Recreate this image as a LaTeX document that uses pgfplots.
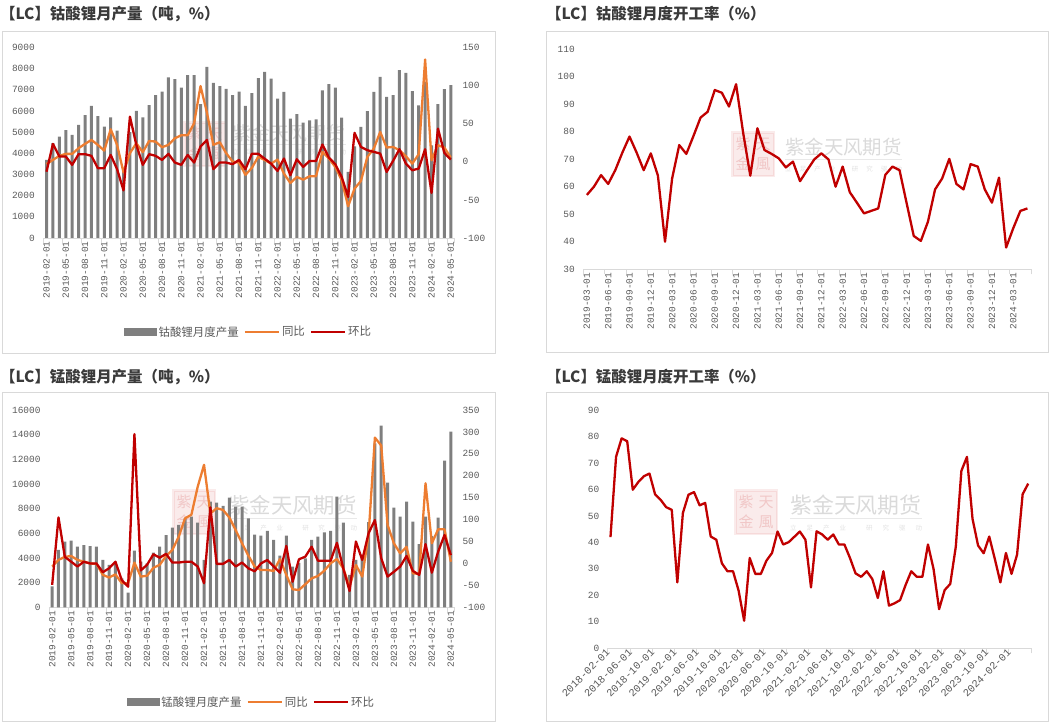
\documentclass[border=0pt]{standalone}
\usepackage{pgfplots}
\usepackage{pgfplotstable}
\pgfplotsset{compat=1.18}
\usepackage{fontspec}
\setmainfont{Noto Sans CJK SC}
\newfontfamily\tickfont{Liberation Mono}
\definecolor{barc}{HTML}{7F7F7F}
\definecolor{orng}{HTML}{ED7D31}
\definecolor{redc}{HTML}{C00000}
\definecolor{axc}{HTML}{D9D9D9}
\definecolor{txt}{HTML}{595959}
\definecolor{ttl}{HTML}{3A3A3A}
\definecolor{wmc}{HTML}{DADADA}

\pgfplotstableread{
i prod yoy mom
0 3690 -3 -13
1 4480 2.5 23.5
2 4790 7.8 7
3 5100 10.4 7
4 4870 10.4 -4
5 5340 17.8 10
6 5810 23.5 10
7 6240 28.7 7.8
8 5760 22.2 -8.4
9 5260 14.7 -8.4
10 5700 42.7 9
11 5070 22.2 -9.7
12 3160 -14 -37.6
13 5000 11.3 59.3
14 6010 24.3 22.2
15 5700 12.6 -4
16 6280 27.4 10
17 6750 26.5 7.8
18 6910 19.1 2.5
19 7590 22.2 10.4
20 7510 30.9 -1
21 7100 34.8 -4
22 7700 34.8 9
23 7700 50.5 -1
24 6330 99.4 20
25 8090 64.5 28.7
26 7330 22.2 -9.7
27 7180 25.7 -1
28 7040 11.3 -1
29 6750 0.3 -3.1
30 6910 -1 2.5
31 6240 -17.1 -9.7
32 6840 -8 10.5
33 7550 6.7 10.5
34 7850 2.3 4
35 7530 -2.4 -2.4
36 6590 2.9 -12
37 6900 -15.5 4.3
38 5640 -27.8 -17.7
39 5850 -19.9 3.3
40 5450 -23.4 -6.7
41 5560 -19 1.1
42 5600 -19 1.1
43 6980 13 22.6
44 7270 4.3 5.5
45 7110 -6.7 -3.2
46 5690 -24.3 -19.9
47 3120 -58.4 -46.1
48 4330 -35.2 38
49 5250 -25.1 19.5
50 5990 6.4 15.2
51 6900 17.3 13
52 7610 39.2 10.8
53 6670 18.7 -13.3
54 6750 19.5 1.1
55 7930 15.2 16.5
56 7800 7.3 -2.4
57 6935 -2.4 -11.1
58 6270 9.9 -8.9
59 7380 134.2 16.5
60 4380 2 -40.9
61 6320 21.7 43.6
62 7030 18.7 11.6
63 7220 5.5 2.9
}\tlc

\pgfplotstableread{
i rate
0 57
1 60
2 64.2
3 61
4 66
5 72.4
6 78.2
7 72.4
8 66
9 72.1
10 64
11 40
12 63
13 75.1
14 71.9
15 78.4
16 85.1
17 87.2
18 95.1
19 94.1
20 89.1
21 97.2
22 79.5
23 64
24 81.2
25 73.3
26 71.9
27 70.3
28 67
29 69.1
30 62
31 66
32 69.9
33 72.1
34 69.9
35 60
36 67.3
37 58
38 54.2
39 50.3
40 51.2
41 52.1
42 64.3
43 67.3
44 66
45 54
46 42.1
47 40.3
48 47.3
49 59
50 63
51 70.1
52 61
53 59
54 68.2
55 67.3
56 59
57 54.2
58 63.3
59 37.9
60 44.9
61 51.2
62 52.1
}\trc

\pgfplotstableread{
i prod yoy mom
0 1700 -7 -49
1 4650 8 105
2 5320 15 15
3 5400 17 4
4 4920 8 -7
5 5050 4 4
6 4970 0 0
7 4920 -1 0
8 3840 -26 -20
9 3430 -32 -11
10 3700 -25 4
11 2350 -45 -38
12 1190 -45 -53
13 4600 2 295
14 3700 -30 -16
15 3570 -28 -3
16 4430 -10 21
17 4920 -3 13
18 5860 17 22
19 6460 31 2
20 6680 61 2
21 7220 103 4
22 7350 111 4
23 6860 175 -7
24 3840 225 -45
25 8570 114 128
26 8490 126 -1
27 8220 122 -1
28 8890 105 8
29 8160 76 -7
30 8160 46 2
31 7220 18 -11
32 5900 -7 -18
33 5810 -15 0
34 6190 -15 8
35 5460 -17 -7
36 4190 10 -21
37 5810 -26 40
38 3290 -59 -41.6
39 3600 -60.5 9.5
40 3970 -47.5 15.4
41 5460 -34 38.2
42 5730 -28.6 6.3
43 6080 -16.5 6.3
44 6190 0.4 6.3
45 8970 10 47
46 6860 -11 -11
47 2620 -53 -63
48 3840 -3.5 50
49 4140 -30 8
50 6900 65 69
51 13300 287 99
52 14730 269 12
53 10110 88 -30
54 8080 46 -19
55 7350 23 -7
56 8560 38 17
57 6940 -22.5 -17
58 5130 -24 -26
59 7350 183 44
60 5800 46 -21
61 7270 78 27
62 11890 78 65
63 14240 4 19
}\blc

\pgfplotstableread{
i rate
0 42
1 72.3
2 79.3
3 78.2
4 59.9
5 62.8
6 65
7 66
8 58.2
9 56.1
10 53.3
11 52.3
12 24.9
13 51.1
14 58
15 59
16 54
17 54.9
18 42.2
19 41
20 32.1
21 29.1
22 29.1
23 21.8
24 10.4
25 34.1
26 28.1
27 28.1
28 33.1
29 36
30 44.1
31 39.2
32 40.1
33 42.1
34 44.1
35 41
36 23
37 44.2
38 43
39 41
40 43
41 39.2
42 39.2
43 34.1
44 28.3
45 27
46 29.1
47 26.2
48 19
49 29.1
50 16.1
51 17
52 18.2
53 24
54 29.1
55 27
56 27
57 39.2
58 30
59 14.8
60 22
61 24.3
62 38.4
63 67
64 72.3
65 48.9
66 38.8
67 35.9
68 42.2
69 33.8
70 24.9
71 36
72 28.1
73 35.4
74 58.2
75 62.2
}\brc

\pgfplotsset{
  panel/.style={scale only axis, anchor=south west,
    scaled ticks=false,
    axis line style={axc, line width=0.8bp},
    tick style={axc, line width=0.8bp},
    tick label style={font=\tickfont\fontsize{9.5}{10}\selectfont, text=txt},
    /pgf/number format/assume math mode=true,
    /pgf/number format/1000 sep={},
    tick align=outside,
    major tick length=0bp, minor tick length=5bp},
  lft/.style={axis x line*=bottom, axis y line*=left,
    y axis line style={draw=none},
    yticklabel style={xshift=-5bp}},
  rgt/.style={axis x line=none, axis y line*=right, y axis line style={draw=none},
    yticklabel style={xshift=5bp}},
  ln/.style={line width=2.3bp, line join=round, mark=none,
    legend image code/.code={\draw (0bp,0bp) -- (34bp,0bp);}},
  lgd/.style={legend style={draw=none, fill=none, legend columns=3,
    font=\fontsize{11.5}{12}\selectfont, text=txt,
    /tikz/every even column/.append style={column sep=3bp},
    at={(0.5,#1)}, anchor=center}, legend cell align=left},
}

\newcommand{\wmark}[6]{%
  \pgfmathsetmacro{\wmw}{6*#5}%
  \pgfmathsetmacro{\wml}{#4-0.62*#5}%
  \pgfmathsetmacro{\wmr}{#3+6*#5}%
  \pgfmathsetmacro{\wms}{#4-#6}%
  \fill[redc!8] (#1-22,#2-23) rectangle (#1+22,#2+23);
  \draw[redc!15, line width=0.8bp] (#1-20,#2-21) rectangle (#1+20,#2+21);
  \node[text=redc!22, font=\fontsize{15}{15}\selectfont] at (#1-10,#2+10) {紫};
  \node[text=redc!22, font=\fontsize{15}{15}\selectfont] at (#1+10,#2+10) {天};
  \node[text=redc!22, font=\fontsize{15}{15}\selectfont] at (#1-10,#2-10) {金};
  \node[text=redc!22, font=\fontsize{15}{15}\selectfont] at (#1+10,#2-10) {風};
  \node[anchor=west, inner sep=0, text=wmc, font=\fontsize{#5}{#5}\selectfont] at (#3,#4) {紫金天风期货};
  \draw[wmc!60, line width=0.6bp] (#3,\wml) -- (\wmr,\wml);
  \node[anchor=west, inner sep=0, text=wmc!80, font=\fontsize{6.5}{7}\selectfont] at (#3,\wms)
     {\makebox[\wmw bp][s]{立\hfill 足\hfill 产\hfill 业\hfill\hfill 研\hfill 究\hfill 驱\hfill 动}};
}

\begin{document}
\begin{tikzpicture}[x=1bp,y=1bp]
\useasboundingbox (0,0) rectangle (1051,723);
\coordinate (TL) at (43.3,485);
\coordinate (TR) at (583.3,453.7);
\coordinate (BL) at (49,115.7);
\coordinate (BR) at (607.7,74.7);
% frames
\draw[axc, line width=0.8bp] (2,692) rectangle (495,370);
\draw[axc, line width=0.8bp] (546,692) rectangle (1048,371);
\draw[axc, line width=0.8bp] (2,331) rectangle (495,2);
\draw[axc, line width=0.8bp] (546,331) rectangle (1048,2);
% titles
\node[anchor=west, inner sep=0, text=ttl, font=\fontsize{15.5}{17}\selectfont\bfseries] at (0,709) {【LC】钴酸锂月产量（吨，\%）};
\node[anchor=west, inner sep=0, text=ttl, font=\fontsize{15.5}{17}\selectfont\bfseries] at (546,709) {【LC】钴酸锂月度开工率（\%）};
\node[anchor=west, inner sep=0, text=ttl, font=\fontsize{15.5}{17}\selectfont\bfseries] at (0,346) {【LC】锰酸锂月产量（吨，\%）};
\node[anchor=west, inner sep=0, text=ttl, font=\fontsize{15.5}{17}\selectfont\bfseries] at (546,346) {【LC】锰酸锂月度开工率（\%）};
% watermarks
\wmark{205}{579}{232}{590}{19}{19}
\wmark{753}{569}{785}{576}{19.5}{22}
\wmark{194}{211}{228}{218}{21.5}{23}
\wmark{756}{211}{790}{218}{22}{23}

% ---------- top left ----------
\begin{axis}[panel, lft, at={(TL)}, width=410.7bp, height=190.5bp,
  xmin=-0.5, xmax=63.5, ymin=0, ymax=9000, ytick={0,1000,...,9000},
  xtick={0,3,...,63},
  xticklabels={2019-02-01,2019-05-01,2019-08-01,2019-11-01,2020-02-01,2020-05-01,2020-08-01,2020-11-01,2021-02-01,2021-05-01,2021-08-01,2021-11-01,2022-02-01,2022-05-01,2022-08-01,2022-11-01,2023-02-01,2023-05-01,2023-08-01,2023-11-01,2024-02-01,2024-05-01},
  minor xtick={-0.5,2.5,...,62.5,63.5},
  xticklabel style={rotate=90, anchor=east},
  ybar, bar width=3bp]
\addplot[fill=barc, draw=none] table[x=i,y=prod]{\tlc};
\end{axis}
\begin{axis}[panel, rgt, at={(TL)}, width=410.7bp, height=190.5bp,
  xmin=-0.5, xmax=63.5, ymin=-100, ymax=150, ytick={-100,-50,...,150}, lgd=-0.493]
\addlegendimage{legend image code/.code={\fill[barc] (0bp,-3.5bp) rectangle (32bp,3.5bp);}}
\addlegendentry{钴酸锂月度产量}
\addplot[ln, orng] table[x=i,y=yoy]{\tlc};
\addlegendentry{同比}
\addplot[ln, redc] table[x=i,y=mom]{\tlc};
\addlegendentry{环比}
\end{axis}

% ---------- top right ----------
\begin{axis}[panel, lft, at={(TR)}, width=447.7bp, height=220.3bp,
  xmin=-0.5, xmax=62.5, ymin=30, ymax=110, ytick={30,40,...,110},
  xtick={0,3,...,60},
  xticklabels={2019-03-01,2019-06-01,2019-09-01,2019-12-01,2020-03-01,2020-06-01,2020-09-01,2020-12-01,2021-03-01,2021-06-01,2021-09-01,2021-12-01,2022-03-01,2022-06-01,2022-09-01,2022-12-01,2023-03-01,2023-06-01,2023-09-01,2023-12-01,2024-03-01},
  minor xtick={-0.5,2.5,...,62.5},
  xticklabel style={rotate=90, anchor=east}]
\addplot[ln, redc] table[x=i,y=rate]{\trc};
\end{axis}

% ---------- bottom left ----------
\begin{axis}[panel, lft, at={(BL)}, width=405bp, height=197.3bp,
  xmin=-0.5, xmax=63.5, ymin=0, ymax=16000, ytick={0,2000,...,16000},
  xtick={0,3,...,63},
  xticklabels={2019-02-01,2019-05-01,2019-08-01,2019-11-01,2020-02-01,2020-05-01,2020-08-01,2020-11-01,2021-02-01,2021-05-01,2021-08-01,2021-11-01,2022-02-01,2022-05-01,2022-08-01,2022-11-01,2023-02-01,2023-05-01,2023-08-01,2023-11-01,2024-02-01,2024-05-01},
  minor xtick={-0.5,2.5,...,62.5,63.5},
  xticklabel style={rotate=90, anchor=east},
  ybar, bar width=3bp]
\addplot[fill=barc, draw=none] table[x=i,y=prod]{\blc};
\end{axis}
\begin{axis}[panel, rgt, at={(BL)}, width=405bp, height=197.3bp,
  xmin=-0.5, xmax=63.5, ymin=-100, ymax=350, ytick={-100,-50,...,350}, lgd=-0.48]
\addlegendimage{legend image code/.code={\fill[barc] (0bp,-3.5bp) rectangle (32bp,3.5bp);}}
\addlegendentry{锰酸锂月度产量}
\addplot[ln, orng] table[x=i,y=yoy]{\blc};
\addlegendentry{同比}
\addplot[ln, redc] table[x=i,y=mom]{\blc};
\addlegendentry{环比}
\end{axis}

% ---------- bottom right ----------
\begin{axis}[panel, lft, at={(BR)}, width=423.3bp, height=238.3bp,
  xmin=-0.5, xmax=75.5, ymin=0, ymax=90, ytick={0,10,...,90},
  xtick={0,4,...,72},
  xticklabels={2018-02-01,2018-06-01,2018-10-01,2019-02-01,2019-06-01,2019-10-01,2020-02-01,2020-06-01,2020-10-01,2021-02-01,2021-06-01,2021-10-01,2022-02-01,2022-06-01,2022-10-01,2023-02-01,2023-06-01,2023-10-01,2024-02-01},
  minor xtick={-0.5,3.5,...,75.5},
  xticklabel style={rotate=45, anchor=east, font=\tickfont\fontsize{10.5}{11}\selectfont}]
\addplot[ln, redc] table[x=i,y=rate]{\brc};
\end{axis}
\end{tikzpicture}
\end{document}
